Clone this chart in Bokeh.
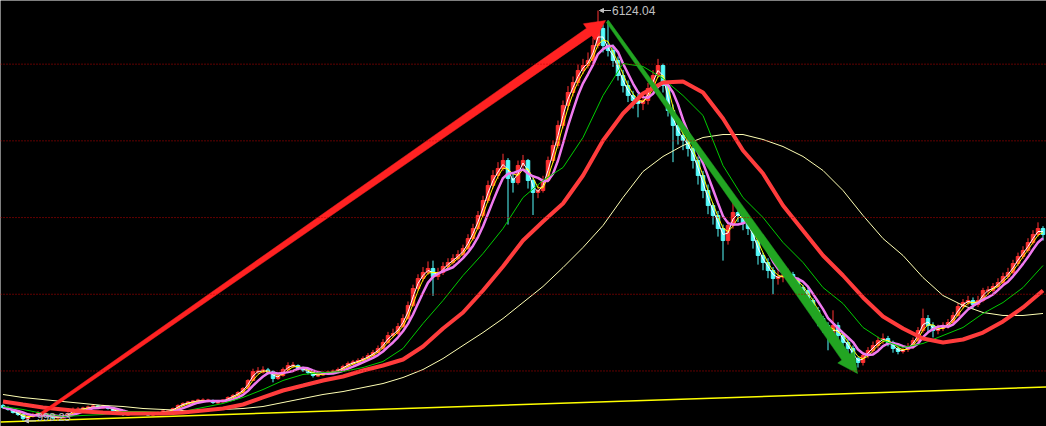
import math
import pandas as pd
from bokeh.plotting import figure
from bokeh.models import Range1d, Span, Arrow, NormalHead
from bokeh.embed import file_html
from bokeh.resources import INLINE
from bokeh.core.properties import value

# ---------------- data (bar index ~ one trading week, prices in index points) -------------
first_open = 1191
close = [1166,1141,1103,1078,1028,1053,1078,1091,1078,1053,
         1041,1041,1053,1091,1141,1141,1153,1166,1178,1166,
         1178,1153,1128,1103,1078,1091,1091,1103,1091,1078,
         1078,1103,1116,1116,1153,1191,1216,1228,1241,1253,
         1253,1253,1228,1241,1253,1291,1316,1353,1403,1503,
         1615,1615,1628,1615,1528,1565,1640,1690,1690,1653,
         1640,1603,1565,1578,1590,1603,1615,1640,1678,1715,
         1728,1753,1778,1815,1853,1903,1978,2065,2090,2177,
         2277,2440,2652,2777,2852,2902,2802,2852,2927,2977,
         3027,3077,3152,3276,3401,3564,3751,3938,4063,4151,
         4251,4026,3976,4188,4251,4001,3851,3876,4001,4251,
         4438,4688,4938,5100,5225,5375,5437,5500,5687,5899,
         5687,5625,5500,5312,5187,5062,5000,4962,5000,5150,
         5312,5437,5187,4875,4688,4563,4500,4400,4251,4063,
         3876,3688,3564,3401,3251,3439,3601,3564,3476,3401,
         3251,3064,2977,2877,2777,2802,2814,2827,2752,2665,
         2627,2502,2377,2277,2190,2065,2190,2065,1978,1903,
         1778,1728,1815,1878,1940,2002,2027,1978,1903,1865,
         1890,1928,2002,2127,2277,2190,2127,2152,2177,2227,
         2315,2427,2477,2502,2452,2502,2627,2627,2677,2727,
         2802,2852,2964,3052,3127,3226,3326,3401,3326]
high = [1210,1180,1150,1115,1090,1075,1100,1120,1105,1090,
        1065,1060,1070,1105,1165,1170,1175,1190,1200,1195,
        1200,1190,1165,1140,1115,1105,1110,1120,1115,1100,
        1095,1115,1130,1135,1165,1205,1230,1245,1260,1275,
        1280,1275,1265,1260,1270,1305,1335,1370,1420,1520,
        1650,1670,1680,1660,1630,1590,1665,1730,1735,1705,
        1675,1655,1615,1600,1615,1625,1640,1665,1700,1740,
        1760,1780,1805,1845,1885,1940,2020,2110,2150,2220,
        2330,2490,2700,2830,2920,2990,3000,2910,2980,3030,
        3080,3130,3200,3330,3460,3620,3810,4000,4130,4230,
        4335,4280,4100,4250,4320,4270,4030,3950,4060,4300,
        4500,4750,5000,5180,5300,5450,5520,5600,5780,6124.04,
        5950,6000,5700,5550,5380,5250,5120,5080,5100,5220,
        5380,5520,5460,5230,4950,4720,4650,4560,4450,4300,
        4120,3950,3720,3620,3450,3500,3730,3660,3600,3520,
        3430,3280,3100,3030,2920,2880,2900,2900,2860,2790,
        2700,2660,2530,2420,2310,2230,2380,2230,2100,2020,
        1940,1800,1860,1920,1990,2050,2090,2060,2000,1930,
        1940,1970,2040,2170,2400,2320,2230,2200,2230,2270,
        2360,2470,2520,2560,2540,2560,2660,2680,2720,2780,
        2850,2910,3010,3100,3180,3280,3380,3478,3430]
low = [1150,1125,1090,1060,998.23,1010,1040,1060,1060,1035,
       1020,1020,1030,1045,1085,1120,1130,1140,1150,1150,
       1150,1140,1115,1090,1060,1065,1075,1080,1075,1060,
       1060,1070,1095,1100,1110,1145,1180,1205,1220,1230,
       1235,1230,1210,1215,1230,1245,1280,1305,1340,1395,
       1495,1580,1590,1580,1480,1510,1550,1625,1660,1630,
       1610,1580,1540,1545,1560,1575,1590,1600,1625,1660,
       1700,1715,1740,1765,1800,1840,1890,1960,2040,2070,
       2160,2260,2420,2620,2740,2820,2560,2760,2820,2900,
       2950,3000,3050,3130,3250,3380,3540,3720,3900,4020,
       4120,3450,3850,3950,4150,3900,3570,3780,3850,3980,
       4220,4400,4650,4880,5050,5180,5330,5400,5460,5650,
       5600,5550,5420,5250,5100,4980,4900,4790,4880,4950,
       5100,5280,5100,4800,4230,4450,4380,4300,4150,3950,
       3780,3580,3450,3300,3000,3200,3400,3480,3380,3320,
       3150,2950,2880,2780,2580,2700,2730,2740,2680,2580,
       2530,2420,2280,2180,2100,1880,2040,1990,1900,1840,
       1700,1664.93,1690,1780,1840,1900,1960,1930,1850,1830,
       1840,1860,1900,1980,2100,2100,2040,2080,2120,2150,
       2200,2300,2400,2440,2400,2420,2480,2570,2600,2640,
       2700,2770,2830,2930,3020,3100,3200,3300,3250]

# slow moving averages, every 4th bar
ma_bars = list(range(0, 209, 4))
ma120 = [1241,1203,1166,1141,1116,1103,1091,1091,1091,1103,
         1128,1153,1203,1291,1378,1440,1503,1553,1628,1690,
         1765,1928,2152,2352,2627,2927,3251,3489,3714,4063,
         4500,4838,5087,5225,5237,5100,4775,4376,4088,3689,
         3376,3064,2814,2540,2302,2152,2027,1977,2015,2102,
         2240,2415,2627]
ma60 = [1178,1141,1091,1053,1066,1078,1116,1116,1103,1116,
        1166,1216,1291,1390,1503,1578,1603,1615,1665,1740,
        1903,2215,2502,2814,3089,3401,3788,4001,4163,4538,
        5062,5462,5425,5275,5062,4813,4188,3788,3539,3227,
        2977,2664,2464,2165,2002,1915,1965,2065,2165,2340,
        2477,2664,2939]
ma250 = [1328,1290,1265,1240,1216,1191,1178,1153,1141,1128,
         1128,1141,1153,1178,1228,1278,1328,1365,1415,1465,
         1540,1640,1777,1940,2102,2277,2477,2677,2914,3164,
         3439,3789,4113,4301,4438,4538,4575,4575,4513,4425,
         4301,4126,3876,3564,3276,3064,2789,2564,2440,2352,
         2315,2315,2340]

grid_levels = [1622, 2580, 3538, 4496, 5454]
trend_x = [-0.5, 208.7]
trend_y = [984, 1422]

up_arrow = (7.5, 1078, 120.5, 5999)      # start bar, start price, end bar, end price
down_arrow = (120.9, 5987, 170.9, 1590)

peak_bar, peak_val, peak_text = 119, 6124.04, "6124.04"
low_bar, low_val, low_text = 4, 998.23, "998.23"

# ---------------- figure -------------
FIG_W, FIG_H = 1046, 426
X0, X1 = -0.5, 208.7
Y0, Y1 = 928.3, 6249.0

p = figure(width=FIG_W, height=FIG_H, output_backend="svg", toolbar_location=None,
           x_range=Range1d(X0, X1), y_range=Range1d(Y0, Y1), min_border=0)
p.background_fill_color = "#000000"
p.border_fill_color = "#000000"
p.outline_line_color = None
p.axis.visible = False
p.grid.visible = False

for lv in grid_levels:
    p.add_layout(Span(location=lv, dimension="width", line_color="#c00000",
                      line_dash="1 2", line_width=1))

p.line(trend_x, trend_y, line_color="#ffff00", line_width=1.5)

n = len(close)
bars = list(range(n))
opens = [first_open] + close[:-1]
inc = [c >= o for o, c in zip(opens, close)]
colors = ["#ff3232" if u else "#54fcfc" for u in inc]
tops, bots = [], []
for o, c in zip(opens, close):
    t, b = max(o, c), min(o, c)
    if t - b < 14:
        t += 7
        b -= 7
    tops.append(t)
    bots.append(b)

p.segment(x0=bars, y0=low, x1=bars, y1=high, line_color=colors, line_width=1)
p.vbar(x=bars, width=0.7, top=tops, bottom=bots, fill_color=colors, line_color=colors)

cs = pd.Series(close, dtype=float)
ma_w = cs.rolling(2, min_periods=1).mean()
ma_y = cs.rolling(3, min_periods=1).mean()
ma_p = cs.rolling(5, min_periods=1).mean()

p.line(ma_bars, ma250, line_color="#ffffb4", line_width=1)
p.line(bars, list(ma_w), line_color="#ffffff", line_width=1)
p.line(bars, list(ma_y), line_color="#ffff00", line_width=1)
p.line(bars, list(ma_p), line_color="#f07af0", line_width=2.5)
p.line(ma_bars, ma60, line_color="#00cc00", line_width=1)
p.line(ma_bars, ma120, line_color="#ff3c3c", line_width=4)

sx = FIG_W / (X1 - X0)
sy = FIG_H / (Y1 - Y0)

def tapered_arrow(xa, ya, xb, yb, w0, w1, hl, hw):
    ax, ay, bx, by = xa * sx, ya * sy, xb * sx, yb * sy
    dx, dy = bx - ax, by - ay
    L = math.hypot(dx, dy)
    ux, uy = dx / L, dy / L
    nx, ny = -uy, ux
    cx, cy = bx - ux * hl, by - uy * hl
    pts = [(ax + nx * w0 / 2, ay + ny * w0 / 2),
           (cx + nx * w1 / 2, cy + ny * w1 / 2),
           (cx + nx * hw, cy + ny * hw),
           (bx, by),
           (cx - nx * hw, cy - ny * hw),
           (cx - nx * w1 / 2, cy - ny * w1 / 2),
           (ax - nx * w0 / 2, ay - ny * w0 / 2)]
    return [q[0] / sx for q in pts], [q[1] / sy for q in pts]

ux_, uy_ = tapered_arrow(*up_arrow, 3, 9, 20, 10)
p.patch(ux_, uy_, fill_color="#ff2222", line_color="#ff2222", line_width=0.5)
dx_, dy_ = tapered_arrow(*down_arrow, 3, 10, 20, 10)
p.patch(dx_, dy_, fill_color="#22a522", line_color="#22a522", line_width=0.5)

# peak / low annotations
p.add_layout(Arrow(x_start=peak_bar + 2.6, y_start=peak_val, x_end=peak_bar + 0.3, y_end=peak_val,
                   line_color="#c0c0c0", line_width=1,
                   end=NormalHead(size=4, fill_color="#c0c0c0", line_color="#c0c0c0")))
p.text(x=[peak_bar], y=[peak_val], text=[peak_text], x_offset=14,
       text_baseline="middle", text_align="left", text_color="#c0c0c0",
       text_font=value("Liberation Sans"), text_font_size=value("12px"))
p.add_layout(Arrow(x_start=low_bar + 2.6, y_start=low_val, x_end=low_bar + 0.3, y_end=low_val,
                   line_color="#c0c0c0", line_width=1,
                   end=NormalHead(size=4, fill_color="#c0c0c0", line_color="#c0c0c0")))
p.text(x=[low_bar], y=[low_val], text=[low_text], x_offset=14,
       text_baseline="bottom", text_align="left", text_color="#c0c0c0",
       text_font=value("Liberation Sans"), text_font_size=value("11px"))

html = file_html(p, INLINE)
html = html.replace("<body>", '<body style="background-color:#000000;">', 1)
open("out.html", "w").write(html)
